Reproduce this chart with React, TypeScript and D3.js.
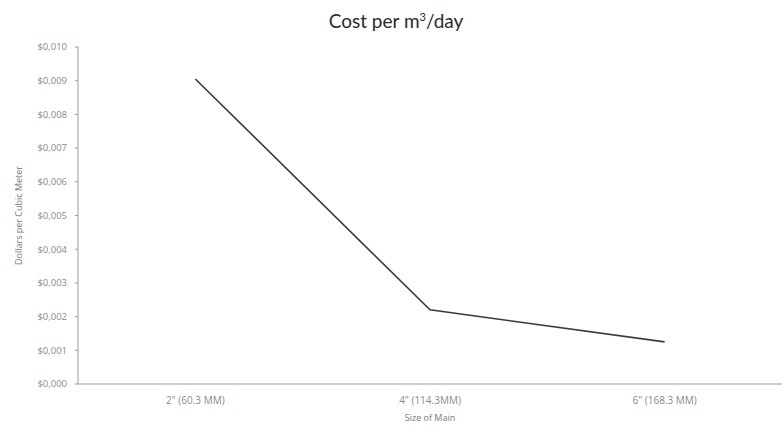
import React from "react";
import * as d3 from "d3";

const categories = ['2" (60.3 MM)', '4" (114.3MM)', '6" (168.3 MM)'];
const values = [0.00905, 0.0022, 0.00125];
const yTicks = [0, 0.001, 0.002, 0.003, 0.004, 0.005, 0.006, 0.007, 0.008, 0.009, 0.01];

const W = 782;
const H = 428;
const margin = { left: 78, right: 0, top: 47, bottom: 44 };

export default function App() {
  const x = d3
    .scaleBand<string>()
    .domain(categories)
    .range([margin.left, W - margin.right])
    .paddingInner(0)
    .paddingOuter(0);
  const y = d3.scaleLinear().domain([0, 0.01]).range([H - margin.bottom, margin.top]);
  const line = d3
    .line<number>()
    .x((_, i) => (x(categories[i]) as number) + x.bandwidth() / 2)
    .y((d) => y(d));
  const fmt = (v: number) => "$" + v.toFixed(3).replace(".", ",");
  const font = "'Open Sans', Lato, sans-serif";
  const axisColor = "#9a9a9a";
  const textColor = "#8a8a8a";

  return (
    <svg
      width={W}
      height={H}
      style={{ position: "absolute", left: 0, top: 0, background: "#fff" }}
      fontFamily={font}
    >
      <text x={396} y={28} textAnchor="middle" fontSize={19} fill="#2a2a2a" fontFamily="Lato, sans-serif">
        Cost per m<tspan dy={-7} fontSize={11}>3</tspan>
        <tspan dy={7}>/day</tspan>
      </text>
      {/* y axis */}
      <line x1={margin.left} x2={margin.left} y1={y(0.01)} y2={y(0)} stroke={axisColor} strokeWidth={1} />
      {yTicks.map((t) => (
        <g key={t}>
          <line x1={margin.left - 3} x2={margin.left} y1={y(t)} y2={y(t)} stroke={axisColor} />
          <text x={margin.left - 11} y={y(t)} dy="0.35em" textAnchor="end" fontSize={9.5} fill={textColor}>
            {fmt(t)}
          </text>
        </g>
      ))}
      {/* x axis */}
      <line x1={margin.left} x2={W} y1={y(0)} y2={y(0)} stroke={axisColor} strokeWidth={1} />
      {categories.map((c) => (
        <text
          key={c}
          x={(x(c) as number) + x.bandwidth() / 2}
          y={y(0) + 20}
          textAnchor="middle"
          fontSize={10}
          fill={textColor}
        >
          {c}
        </text>
      ))}
      <text x={430} y={421} textAnchor="middle" fontSize={9} fill="#777">
        Size of Main
      </text>
      <text
        transform={`translate(22, ${(y(0) + y(0.01)) / 2}) rotate(-90)`}
        textAnchor="middle"
        fontSize={9}
        fill="#777"
      >
        Dollars per Cubic Meter
      </text>
      <path d={line(values) || ""} fill="none" stroke="#3a3a3a" strokeWidth={1.6} />
    </svg>
  );
}
